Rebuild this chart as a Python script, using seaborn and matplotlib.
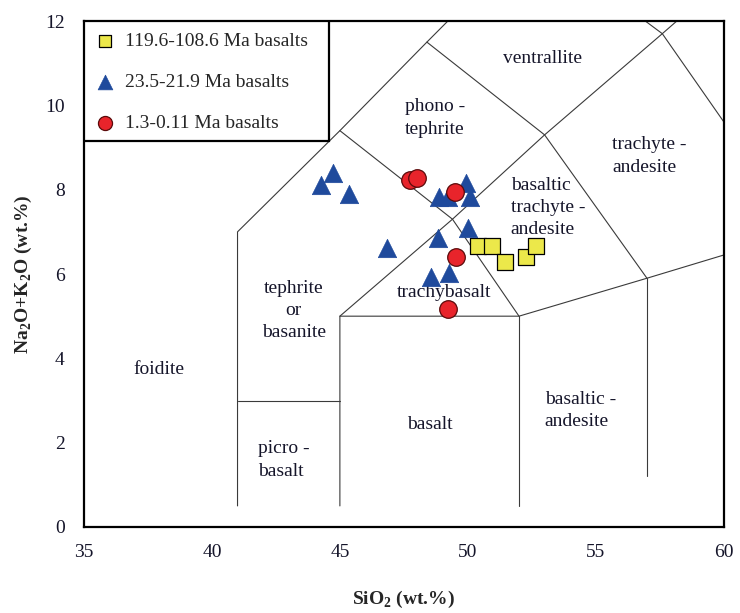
import pandas as pd
import matplotlib
matplotlib.use('Agg')
import matplotlib.pyplot as plt
import seaborn as sns
from matplotlib.patches import Rectangle

# sample data (SiO2, Na2O+K2O, wt.%)
sq_sio2 = [50.39, 50.94, 51.45, 52.27, 52.66]
sq_alk = [6.66, 6.66, 6.28, 6.40, 6.66]

tri_sio2 = [44.26, 44.73, 45.35, 46.84, 48.83, 50.00, 48.87, 49.22, 49.92, 50.08, 48.55, 49.26]
tri_alk = [8.10, 8.39, 7.89, 6.61, 6.85, 7.09, 7.82, 7.82, 8.15, 7.82, 5.92, 6.02]

cir_sio2 = [47.73, 48.00, 49.49, 49.53, 49.22]
cir_alk = [8.22, 8.27, 7.94, 6.40, 5.17]

group_labels = ['119.6-108.6 Ma basalts', '23.5-21.9 Ma basalts', '1.3-0.11 Ma basalts']

# TAS field boundaries (Le Bas et al. 1986)
tas_lines = [
    [(41, 0.5), (41, 7), (45, 9.4), (48.4, 11.5), (52.5, 14)],
    [(41, 3), (45, 3)],
    [(45, 0.5), (45, 5), (49.4, 7.3), (53, 9.3), (57.6, 11.7), (61, 13.5)],
    [(45, 5), (52, 5), (57, 5.9), (63, 7)],
    [(52, 0.5), (52, 5)],
    [(57, 1.2), (57, 5.9)],
    [(45, 9.4), (49.4, 7.3), (52, 5)],
    [(48.4, 11.5), (53, 9.3), (57, 5.9)],
    [(52.5, 14), (57.6, 11.7), (63, 7)],
]

field_names = ['ventrallite', 'phono -\ntephrite', 'trachyte -\nandesite',
               'basaltic\ntrachyte -\nandesite', 'tephrite\nor\nbasanite',
               'trachybasalt', 'foidite', 'picro -\nbasalt', 'basalt',
               'basaltic -\nandesite']
field_x = [52.93, 47.54, 55.63, 51.68, 43.2, 49.06, 37.93, 41.8, 48.52, 53.0]
field_y = [11.11, 9.7, 8.8, 7.58, 5.14, 5.57, 3.74, 1.59, 2.44, 2.77]
field_ha = ['center', 'left', 'left', 'left', 'center', 'center', 'center',
            'left', 'center', 'left']

sns.set_style('white')
plt.rcParams['font.family'] = ['Liberation Serif', 'DejaVu Serif']
plt.rcParams['mathtext.fontset'] = 'custom'
plt.rcParams['mathtext.rm'] = 'Liberation Serif'
plt.rcParams['mathtext.bf'] = 'Liberation Serif:bold'

fig, ax = plt.subplots(figsize=(7.4, 6.13), dpi=100)
fig.subplots_adjust(left=0.1135, right=0.978, top=0.9657, bottom=0.1403)

for seg in tas_lines:
    xs = [p[0] for p in seg]
    ys = [p[1] for p in seg]
    ax.plot(xs, ys, color='#3a3a3a', lw=0.8, zorder=1)

for name, fx, fy, ha in zip(field_names, field_x, field_y, field_ha):
    ax.text(fx, fy, name, ha=ha, va='center', multialignment=ha, fontsize=14,
            color='#15152a', linespacing=1.4, zorder=2)

# legend box
ax.add_patch(Rectangle((35, 9.15), 9.57, 2.85, facecolor='white',
                       edgecolor='black', lw=1.6, zorder=3))

sns.scatterplot(x=sq_sio2, y=sq_alk, marker='s', s=120, color='#ECE84A',
                edgecolor='black', linewidth=0.9, label=group_labels[0], ax=ax, zorder=5)
sns.scatterplot(x=tri_sio2, y=tri_alk, marker='^', s=175, color='#1F4A9C',
                edgecolor='#1F4A9C', linewidth=0.5, label=group_labels[1], ax=ax, zorder=5)
sns.scatterplot(x=cir_sio2, y=cir_alk, marker='o', s=160, color='#E8242B',
                edgecolor='#5a0a0a', linewidth=0.9, label=group_labels[2], ax=ax, zorder=6)

leg = ax.legend(loc='upper left', bbox_to_anchor=(0, 1), borderaxespad=0,
                frameon=False, fontsize=14, borderpad=0.6, handlelength=1.0,
                handletextpad=0.5, labelspacing=1.2, markerscale=0.8)
leg.set_zorder(7)

ax.set_xlim(35, 60)
ax.set_ylim(0, 12)
ax.set_xticks([35, 40, 45, 50, 55, 60])
ax.set_yticks([0, 2, 4, 6, 8, 10, 12])
ax.tick_params(direction='in', length=5, width=1.5, labelsize=14,
               colors='black', labelcolor='#15152a')
ax.tick_params(axis='x', pad=12)
ax.tick_params(axis='y', pad=14)
for sp in ax.spines.values():
    sp.set_linewidth(1.6)
    sp.set_color('black')

ax.set_xlabel(r'SiO$_\mathbf{2}$ (wt.%)', fontsize=14, fontweight='bold', labelpad=20)
ax.set_ylabel(r'Na$_\mathbf{2}$O+K$_\mathbf{2}$O (wt.%)', fontsize=14,
              fontweight='bold', labelpad=8)

fig.savefig('out.png', dpi=100)
